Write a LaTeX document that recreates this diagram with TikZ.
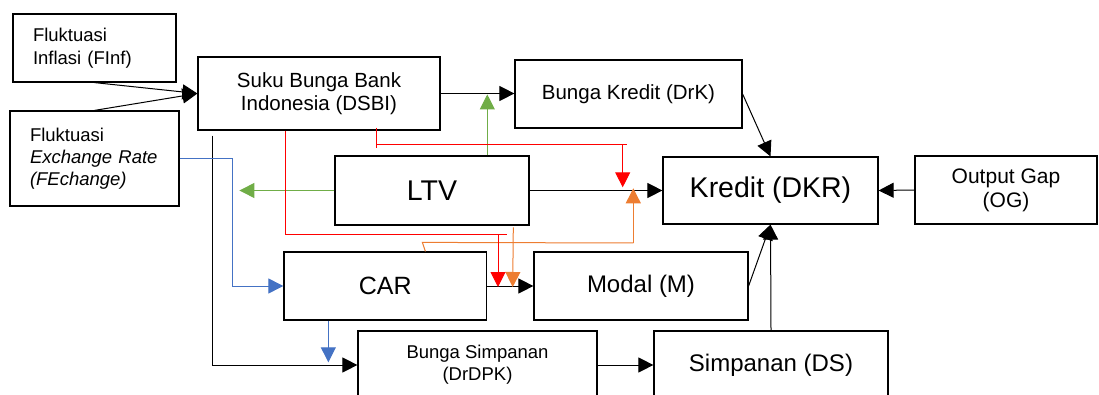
\documentclass[tikz,border=0pt]{standalone}
\usepackage{fontspec}
\setmainfont{Liberation Sans}
\usetikzlibrary{arrows.meta}
\newcommand{\sz}[2]{\fontsize{#1}{#2}\selectfont}
\definecolor{lnred}{HTML}{FF0000}
\definecolor{lngreen}{HTML}{70AD47}
\definecolor{lnblue}{HTML}{4472C4}
\definecolor{lnorange}{HTML}{ED7D31}

\begin{document}
\begin{tikzpicture}[x=1pt, y=-1pt,
  box/.style={draw, line width=1.2pt, inner sep=0pt, align=center},
  lbox/.style={box, align=left, inner xsep=20pt},
  ln/.style={line width=1pt},
  arr/.style={ln, -{Triangle[length=15pt,width=15pt]}}]
\useasboundingbox (0,0) rectangle (1099,395);

% boxes
\node[lbox, text width=123pt, minimum height=68pt, font=\sz{18.5}{23}] (finf) at (94.5,48) {Fluktuasi\\Inflasi (FInf)};
\node[lbox, text width=129pt, minimum height=95pt, font=\sz{18.5}{22}] (fex) at (94.5,158.5) {Fluktuasi\\\textit{Exchange Rate}\\\textit{(FEchange)}};
\node[box, minimum width=242pt, minimum height=73pt, font=\sz{20.5}{23}] (dsbi) at (319,93.5) {Suku Bunga Bank\\Indonesia (DSBI)};
\node[box, minimum width=227pt, minimum height=68pt, font=\sz{20.5}{23}] (drk) at (628.5,94) {Bunga Kredit (DrK)};
\node[box, minimum width=194pt, minimum height=69pt, font=\sz{28.5}{32}] (ltv) at (432,190.5) {LTV};
\node[box, minimum width=215pt, minimum height=67pt, font=\sz{28.5}{32}] (kredit) at (770.5,190.5) {Kredit (DKR)};
\node[box, minimum width=182pt, minimum height=68pt, font=\sz{21}{24}] (og) at (1006,190) {Output Gap\\(OG)};
\node[box, minimum width=202.7pt, minimum height=68pt, font=\sz{25}{28}] (car) at (385.3,286) {CAR};
\node[box, minimum width=214pt, minimum height=68pt, font=\sz{24}{28}] (modal) at (641,286) {Modal (M)};
\node[box, minimum width=239pt, minimum height=68pt, font=\sz{18.5}{22}] (bsimp) at (477.5,365) {Bunga Simpanan\\(DrDPK)};
\node[box, minimum width=234pt, minimum height=68pt, font=\sz{24}{28}] (simp) at (771,365) {Simpanan (DS)};

% black links
\draw[arr] (finf.south) -- (dsbi.west);
\draw[arr] (fex.north) -- (dsbi.west);
\draw[arr] (dsbi.east) -- (dsbi.east -| drk.west);
\draw[arr] (drk.east) -- (kredit.north);
\draw[arr] (og.west) -- (kredit.east);
\draw[arr] (ltv.east) -- (kredit.west);
\draw[arr] (car.east) -- (modal.west);
\draw[arr] (modal.east) -- (kredit.south);
\draw[arr] (simp.north) -- (kredit.south);
\draw[arr] (bsimp.east) -- (simp.west);
\draw[arr] ([xshift=15pt,yshift=-5pt]dsbi.south west) |- (bsimp.west);

% blue
\draw[arr, lnblue] (fex.east) -- ++(52.7,0) |- (car.west);
\draw[arr, lnblue] ([xshift=45pt]car.south west) -- ++(0,41.7);

% green
\draw[arr, lngreen] ([xshift=-42.3pt]ltv.north east) -- ++(0,-61);
\draw[arr, lngreen] (ltv.west) -- ++(-95,0);

% orange
\draw[ln, lnorange] ([xshift=142pt]car.north west) -- ++(-3,-9) -- (633.3,243);
\draw[arr, lnorange] (633.3,243) -- (633.3,188.3);
\draw[arr, lnorange] ([xshift=-16.3pt,yshift=-1.7pt]ltv.south east) -- (512.7,287);

% red
\draw[ln, lnred] ([xshift=87.7pt]dsbi.south west) |- (507,234.5);
\draw[arr, lnred] (498,234.5) -- (498,287);
\draw[ln, lnred] ([xshift=179pt,yshift=3pt]dsbi.south west) -- ++(0,20);
\draw[ln, lnred] (377,144.5) -- (627,144.5);
\draw[arr, lnred] (622.7,144.5) -- (622.7,187.3);
\end{tikzpicture}
\end{document}
